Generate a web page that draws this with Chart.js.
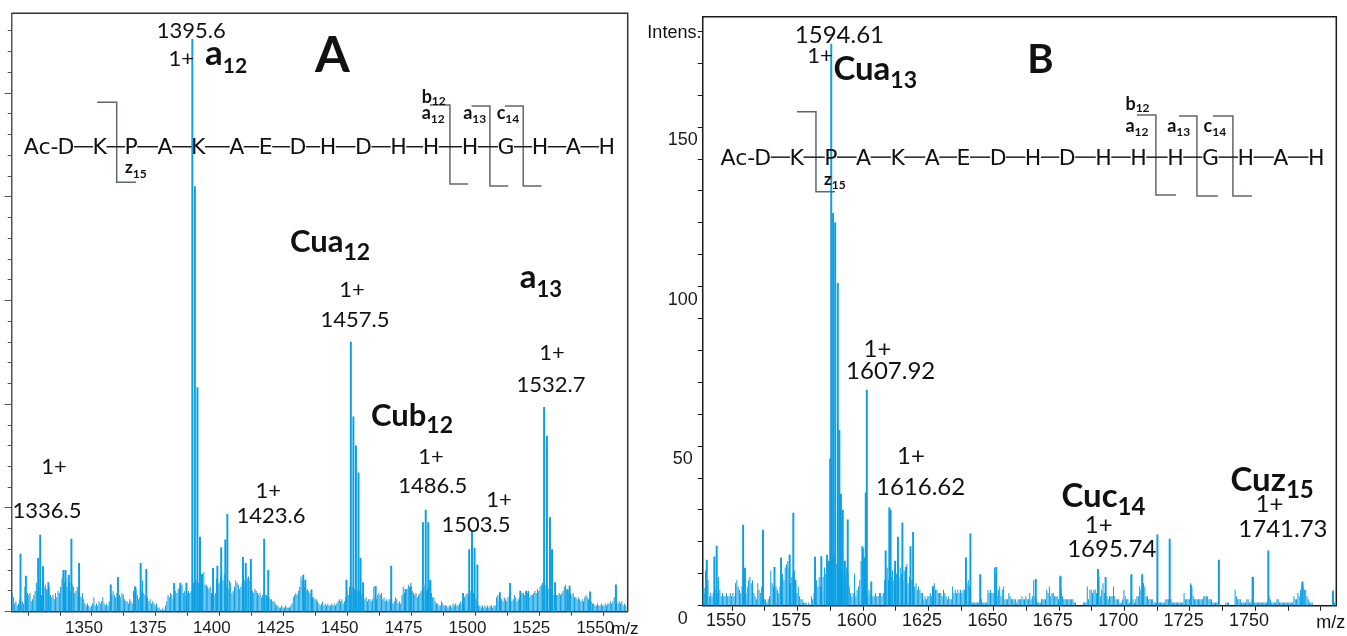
<!DOCTYPE html>
<html>
<head>
<meta charset="utf-8">
<script src="https://cdn.jsdelivr.net/npm/chart.js@4.4.1/dist/chart.umd.min.js"></script>
<style>
html,body{margin:0;padding:0;background:#fff;}
#wrap{position:relative;width:1347px;height:636px;overflow:hidden;background:#fff;}
canvas{position:absolute;top:0;}
#cA{left:0;}
#cB{left:645px;}
</style>
</head>
<body>
<div id="wrap">
<canvas id="cA" width="645" height="636"></canvas>
<canvas id="cB" width="702" height="636"></canvas>
</div>
<script>
// ================= DATA : panel A =================
const xTicksA = [1337.5,1350,1362.5,1375,1387.5,1400,1412.5,1425,1437.5,1450,1462.5,1475,1487.5,1500,1512.5,1525,1537.5,1550,1562.5];
const xLabelsA = [1350,1375,1400,1425,1450,1475,1500,1525,1550];
// baseline "grass", sampled every 0.5 m/z from 1325
const grassStartA = 1325, grassStepA = 0.5;
const grassA = [
 9,7,4,5,3,4,6,4,5,4,   12,6,9,8,9,5,6,8,10,14,
 10,12,9,8,14,12,13,11,10,12,   8,7,8,6,9,7,10,9,12,16,
 18,14,15,12,16,14,10,13,12,9,   10,12,9,8,7,9,6,4,3,4,
 3,2,3,4,7,3,4,3,5,4,   5,7,4,3,4,3,5,12,8,10,
 8,7,9,6,8,7,9,8,6,5,   5,4,6,5,4,10,12,11,8,6,
 7,10,15,9,8,6,7,5,6,4,   5,4,3,4,2,2,1,1,2,1,
 3,5,8,7,9,8,6,13,10,9,   11,12,10,13,9,10,8,9,10,9,
 10,12,14,12,15,13,14,12,11,10,   19,13,13,12,11,12,9,10,8,9,
 16,13,14,17,19,15,18,14,12,11,   15,14,9,10,12,15,14,13,11,12,
 14,17,15,14,16,17,15,11,10,9,   11,10,9,8,9,7,8,9,8,8,
 7,7,6,6,5,5,4,3,3,2,   2,3,2,2,3,2,2,2,3,4,
 7,8,9,8,10,12,17,15,13,12,   10,11,10,9,8,7,7,6,6,5,
 4,3,4,5,3,4,3,4,3,3,   4,3,4,3,4,5,6,5,6,4,
 5,7,10,8,12,10,12,9,11,9,   10,9,10,8,9,7,6,7,5,6,
 6,5,6,12,7,6,8,9,8,9,   6,7,5,6,5,6,6,5,4,5,
 7,6,4,5,4,8,12,9,10,11,   13,12,14,10,9,8,9,7,8,9,
 10,12,11,13,10,11,9,15,9,7,   7,5,4,4,3,3,5,4,3,3,
 3,2,3,3,2,4,3,4,3,3,   4,5,4,6,7,8,9,8,9,10,
 8,9,7,6,4,3,3,2,3,2,   3,2,3,2,3,3,2,3,3,7,
 8,5,7,6,5,7,6,5,7,9,   6,5,6,8,7,5,6,7,8,9,
 9,8,10,9,10,7,8,8,9,10,   9,11,10,12,13,14,12,13,11,12,
 11,10,9,9,8,9,8,8,9,8,   9,10,12,13,11,9,10,9,8,9,
 7,7,6,7,6,5,6,5,7,8,   7,6,5,5,4,4,3,3,4,3,
 3,4,3,3,4,3,4,4,5,4,   5,7,6,5,4,5,4,5,3,4,
 3
];
// resolved peaks (m/z, intensity)
const peakMzA = [1328.3,1330.4,1335.2,1336.0,1337.1,1339.2,1345.1,1345.9,1347.2,1348.2,1351.2,1363.6,1366.4,1373.2,1375.3,1377.5,
 1388.4,1390.8,1393.2,1395.5,1396.5,1397.5,1398.5,1399.3,1403.6,1405.3,1406.8,1408.4,1409.2,1415.3,1416.4,1418.4,1423.6,1425.2,
 1438.9,1439.7,1442.1,1455.8,1457.5,1458.5,1459.5,1460.5,1461.3,1462.3,1467.2,1473.3,1478.9,1481.0,1485.7,1486.8,1487.8,1488.6,
 1501.4,1503.8,1504.9,1505.9,1507.0,1515.8,1519.8,1523.8,1526.2,1533.1,1534.2,1535.4,1536.2,1537.4,1542.3,1543.1,1551.1,1561.2];
const peakIntA = [27.8,17.2,25.7,37,21.7,14,20,20,17.7,35,23.3,12.9,16.6,12,23.3,20.4,
 13.7,13.8,13.8,276,205,108,36,18,20.9,22,30.9,34.6,47,26.2,23.3,25.3,35,20,
 17.7,15.3,10.5,15.3,130,94,80,67,25.7,14,12.2,22,10.8,12,43,49,43,15.3,
 8.9,30,39,30.6,22.5,9.2,13.7,10,10,98.5,84.7,45.5,30,14,10.5,12.4,9.6,12.9];

// ================= DATA : panel B =================
const xTicksB = [1550,1562.5,1575,1587.5,1600,1612.5,1625,1637.5,1650,1662.5,1675,1687.5,1700,1712.5,1725,1737.5,1750,1762.5,1775];
const xLabelsB = [1550,1575,1600,1625,1650,1675,1700,1725,1750];
const yLabelsB = [0,50,100,150];
const grassStartB = 1545, grassStepB = 0.5;
const grassB = [
 5,4,11,6,8,3,4,3,4,6,   5,4,9,5,3,4,3,3,4,3,
 3,4,3,4,3,7,8,6,5,4,   6,10,5,4,6,8,9,7,8,4,
 3,2,7,5,4,6,3,2,2,1,   2,3,11,7,6,5,6,5,4,6,
 5,10,8,12,13,14,12,7,9,10,   11,7,4,6,3,2,2,1,1,1,
 0,1,0,3,2,4,5,8,6,9,   6,4,9,12,10,13,14,12,15,16,
 14,16,13,15,12,14,11,12,10,9,   12,10,6,4,3,4,10,3,5,6,
 8,14,12,18,10,4,3,5,4,3,   3,3,4,3,3,4,4,3,4,8,
 10,12,8,14,9,11,8,12,10,14,   9,12,10,8,11,9,13,7,9,8,
 8,7,6,7,5,6,5,4,4,2,   3,2,3,3,4,3,6,7,5,5,
 4,4,4,3,5,4,3,2,3,2,   2,6,4,5,4,5,4,5,4,5,
 5,6,7,8,6,1,1,1,1,1,   1,1,10,2,1,1,1,1,5,4,
 5,4,4,12,10,3,5,6,3,5,   6,2,2,2,4,3,2,2,2,2,
 1,2,2,2,3,2,2,3,2,2,   4,2,3,8,3,2,1,1,1,2,
 2,2,2,5,4,6,3,4,4,3,   3,3,2,9,5,3,2,2,2,2,
 2,2,2,2,1,1,0,0,0,0,   0,1,1,1,6,2,5,5,4,5,
 5,4,11,9,3,5,7,4,3,3,   2,3,3,3,6,3,2,2,2,1,
 1,2,5,3,2,2,1,1,10,2,   1,2,3,3,6,5,10,7,6,3,
 3,2,2,2,2,1,1,1,1,1,   1,1,1,1,2,2,2,2,2,1,
 1,1,1,1,1,1,1,1,4,2,   2,2,2,7,6,3,2,2,2,2,
 2,2,2,3,3,3,3,2,2,2,   1,1,1,1,1,0,0,0,0,0,
 1,1,1,0,0,0,0,5,3,2,   2,2,1,1,1,1,2,2,1,1,
 2,9,1,1,1,1,1,1,1,1,   1,1,1,3,2,1,1,1,1,2,
 2,1,1,1,1,1,1,1,1,1,   1,1,3,2,2,4,3,5,7,6,
 5,5,3,2,1,1,1,0,0,0,   0,0,0,0,0,0,0,0,0,0,
 0,0,5,1,0
];
const peakMzB = [1545.3,1546.5,1549.4,1550.3,1560.4,1561.1,1568.0,1572.4,1574.9,1578.2,1579.6,1580.4,1587.9,1590.3,1592.5,1593.4,
 1593.7,1594.1,1594.8,1595.6,1596.6,1597.2,1597.8,1598.5,1599.3,1600.4,1606.0,1606.7,1607.3,1607.7,1609.4,1614.9,1616.3,1616.8,
 1618.5,1619.6,1621.3,1622.7,1624.4,1625.4,1633.0,1645.6,1647.3,1651.1,1657.2,1672.3,1681.8,1696.1,1699.0,1708.8,1713.0,1718.8,
 1723.5,1731.6,1742.3,1755.2,1761.2,1774.3,1785.9];
const peakIntB = [5.5,14.3,15.3,18.7,25.3,11.8,23.7,12,15,15.9,29,8,15.2,15.4,15.9,14,
 46,176,123,120,101,55,35,30,14,26.9,18.5,15,35.4,67.6,7.5,17.2,30.7,30,
 14,21.5,26,12,18.5,23,6,15,22.5,9.6,12,8.3,9.3,11.4,8.9,9.6,9.6,22.2,
 20.9,6.5,14.3,8.9,17.2,7.5,4.4];

// peptide sequence (shared)
const residues = ['D','K','P','A','K','A','E','D','H','D','H','H','H','G','H','A','H'];

// ================= LAYOUT / STYLE =================
const BLUE = '#0b9fe3';
const INK = '#111111';
const NUM_A = '22px Lato', NUM_B = '24px Lato';
const SEQ_FONT = '22px "DejaVu Sans"';
const SMALL = 'bold 18px Lato', SMALL_SUB = 'bold 12px Lato';

const layoutA = {
  frameColor:'#333', frameWidth:1.5,
  seq:{ mz:[1346.09,1359.27,1371.59,1384.81,1397.83,1412.85,1424.23,1436.82,1448.55,1462.44,1476.12,1488.83,1504.09,1518.17,1531.46,1544.56,1557.66], int:220.5 },
  brackets:[
    {l:1358.33,v:1365.92,r:1373.47,top:245.6,bot:207.0},
    {l:1488.44,v:1496.27,r:1503.42,top:244.3,bot:206.2},
    {l:1504.75,v:1511.91,r:1519.07,top:243.8,bot:205.2},
    {l:1517.77,v:1524.93,r:1532.12,top:243.8,bot:205.2}
  ],
  texts:[
    {t:'1395.6', m:1395.09, i:276.5, f:NUM_A},
    {t:'1+', m:1391.18, i:262.9, f:NUM_A},
    {t:'a', sub:'12', m:1400.45, i:263.6, f:'bold 35px Lato', sf:'bold 21px Lato', dy:7.7, align:'left'},
    {t:'A', m:1450.31, i:260.4, f:'bold 50px Lato'},
    {t:'Cua', sub:'12', m:1433.69, i:173.6, f:'bold 31px Lato', sf:'bold 23px Lato', dy:8.3, align:'left'},
    {t:'1+', m:1457.94, i:151.9, f:NUM_A},
    {t:'1457.5', m:1459.11, i:137.5, f:NUM_A},
    {t:'a', sub:'13', m:1523.53, i:155.9, f:'bold 33px Lato', sf:'bold 22px Lato', dy:8.4, align:'left'},
    {t:'1+', m:1536.15, i:121.4, f:NUM_A},
    {t:'1532.7', m:1535.76, i:106.1, f:NUM_A},
    {t:'Cub', sub:'12', m:1465.37, i:89.5, f:'bold 31px Lato', sf:'bold 23px Lato', dy:7.3, align:'left'},
    {t:'1+', m:1488.83, i:71.2, f:NUM_A},
    {t:'1486.5', m:1489.54, i:57.1, f:NUM_A},
    {t:'1+', m:1515.43, i:50.3, f:NUM_A},
    {t:'1503.5', m:1506.43, i:38.6, f:NUM_A},
    {t:'1+', m:1425.24, i:54.7, f:NUM_A},
    {t:'1423.6', m:1426.26, i:42.9, f:NUM_A},
    {t:'1+', m:1341.4, i:66.4, f:NUM_A},
    {t:'1336.5', m:1338.66, i:45.0, f:NUM_A},
    {t:'z', sub:'15', m:1369.16, i:211.4, f:'bold 17px Lato', sf:SMALL_SUB, dy:4.5, align:'left'},
    {t:'b', sub:'12', m:1485.2, i:245.4, f:SMALL, sf:SMALL_SUB, dy:2.5, align:'left'},
    {t:'a', sub:'12', m:1485.2, i:237.4, f:SMALL, sf:SMALL_SUB, dy:4, align:'left'},
    {t:'a', sub:'13', m:1501.47, i:237.4, f:SMALL, sf:SMALL_SUB, dy:4, align:'left'},
    {t:'c', sub:'14', m:1514.53, i:237.4, f:SMALL, sf:SMALL_SUB, dy:4, align:'left'},
    {t:'m/z', m:1564.7, below:22.3, f:'17px "Liberation Sans"'}
  ]
};

const layoutB = {
  frameColor:'#1a1a1a', frameWidth:1.5,
  seq:{ mz:[1567.89,1580.92,1593.96,1606.46,1619.50,1632.72,1644.69,1657.91,1671.29,1684.33,1698.20,1711.58,1725.69,1739.07,1752.60,1765.98,1779.55], int:138.2 },
  brackets:[
    {l:1581.0,v:1588.26,r:1595.53,top:154.8,bot:129.7},
    {l:1710.97,v:1718.23,r:1725.88,top:153.8,bot:128.7},
    {l:1727.03,v:1733.91,r:1741.94,top:153.5,bot:128.4},
    {l:1740.03,v:1747.67,r:1754.94,top:153.5,bot:128.4}
  ],
  texts:[
    {t:'1594.61', m:1597.21, i:176.3, f:NUM_B},
    {t:'1+', m:1589.79, i:170.0, f:'22px Lato'},
    {t:'Cua', sub:'13', m:1594.92, i:164.8, f:'bold 33px Lato', sf:'bold 23px Lato', dy:8.3, align:'left'},
    {t:'B', m:1674.08, i:167.1, f:'bold 40px Lato'},
    {t:'1+', m:1611.74, i:78.1, f:NUM_B},
    {t:'1607.92', m:1616.82, i:71.0, f:NUM_B},
    {t:'1+', m:1624.58, i:44.3, f:NUM_B},
    {t:'1616.62', m:1628.25, i:34.7, f:NUM_B},
    {t:'Cuc', sub:'14', m:1682.11, i:31.0, f:'bold 33px Lato', sf:'bold 24px Lato', dy:8.3, align:'left'},
    {t:'1+', m:1696.33, i:22.7, f:NUM_B},
    {t:'1695.74', m:1701.34, i:15.2, f:NUM_B},
    {t:'Cuz', sub:'15', m:1746.75, i:36.1, f:'bold 33px Lato', sf:'bold 24px Lato', dy:7.6, align:'left'},
    {t:'1+', m:1761.66, i:29.5, f:NUM_B},
    {t:'1741.73', m:1766.78, i:21.6, f:NUM_B},
    {t:'z', sub:'15', m:1591.32, i:131.9, f:'bold 17px Lato', sf:SMALL_SUB, dy:4.5, align:'left'},
    {t:'b', sub:'12', m:1706.58, i:155.4, f:SMALL, sf:SMALL_SUB, dy:2.5, align:'left'},
    {t:'a', sub:'12', m:1706.58, i:148.6, f:SMALL, sf:SMALL_SUB, dy:4, align:'left'},
    {t:'a', sub:'13', m:1722.55, i:148.6, f:SMALL, sf:SMALL_SUB, dy:4, align:'left'},
    {t:'c', sub:'14', m:1736.43, i:148.6, f:SMALL, sf:SMALL_SUB, dy:4, align:'left'},
    {t:'m/z', m:1785.05, below:22.3, f:'18px "Liberation Sans"'},
    {t:'Intens.', leftDx:-1.3, i:178, f:'18px "Liberation Sans"', align:'right'}
  ]
};

// ================= PLUGIN =================
const annotPlugin = {
  id:'annot',
  afterDatasetsDraw(chart, args, o) {
    const {ctx, chartArea:ca} = chart;
    const sx = chart.scales.x, sy = chart.scales.y;
    const X = v => sx.getPixelForValue(v), Y = v => sy.getPixelForValue(v);
    ctx.save();
    // top and right frame
    ctx.strokeStyle = o.frameColor; ctx.lineWidth = o.frameWidth;
    ctx.beginPath(); ctx.moveTo(ca.left, ca.top); ctx.lineTo(ca.right, ca.top); ctx.lineTo(ca.right, ca.bottom); ctx.stroke();
    // fragmentation brackets
    ctx.strokeStyle = '#5c6870'; ctx.lineWidth = 1.5;
    for (const b of o.brackets) {
      ctx.beginPath();
      ctx.moveTo(X(b.l), Y(b.top)); ctx.lineTo(X(b.v), Y(b.top));
      ctx.lineTo(X(b.v), Y(b.bot)); ctx.lineTo(X(b.r), Y(b.bot));
      ctx.stroke();
    }
    // sequence
    ctx.font = SEQ_FONT; ctx.fillStyle = INK; ctx.textBaseline = 'alphabetic';
    const by = Y(o.seq.int);
    const xs = o.seq.mz.map(X);
    const ws = residues.map(r => ctx.measureText(r).width);
    ctx.textAlign = 'center';
    residues.forEach((r, k) => ctx.fillText(r, xs[k], by));
    ctx.textAlign = 'right';
    ctx.fillText('Ac-', xs[0] - ws[0]/2 + 1, by);
    ctx.strokeStyle = INK; ctx.lineWidth = 1.4;
    for (let k = 0; k < residues.length - 1; k++) {
      const x1 = xs[k] + ws[k]/2 - 0.5, x2 = xs[k+1] - ws[k+1]/2 + 0.5;
      ctx.beginPath(); ctx.moveTo(x1, by - 7.6); ctx.lineTo(x2, by - 7.6); ctx.stroke();
    }
    // texts
    for (const t of o.texts) {
      const px = t.leftDx !== undefined ? ca.left + t.leftDx : X(t.m);
      const py = t.below !== undefined ? ca.bottom + t.below : Y(t.i);
      ctx.font = t.f; ctx.fillStyle = INK; ctx.textBaseline = 'alphabetic';
      ctx.textAlign = t.align || 'center';
      ctx.fillText(t.t, px, py);
      if (t.sub) {
        const w = ctx.measureText(t.t).width;
        ctx.font = t.sf; ctx.textAlign = 'left';
        ctx.fillText(t.sub, px + w, py + t.dy);
      }
    }
    ctx.restore();
  }
};

function pts(xs, ys){ return xs.map((x, k) => ({x, y: ys[k]})); }
const grassMzA = grassA.map((_, k) => grassStartA + k * grassStepA);
const grassMzB = grassB.map((_, k) => grassStartB + k * grassStepB);

// ================= CHART A =================
new Chart(document.getElementById('cA'), {
  type:'bar',
  data:{ datasets:[
    { data: pts(grassMzA, grassA), backgroundColor: BLUE, barThickness: 1.0, inflateAmount: 0, grouped:false, order:2 },
    { data: pts(peakMzA, peakIntA), backgroundColor: BLUE, barThickness: 1.3, grouped:false, order:1 }
  ]},
  options:{
    responsive:false, animation:false, events:[], devicePixelRatio:1,
    layout:{ padding:{ left:11.7, top:13.3, right:17.3, bottom:0 } },
    plugins:{ legend:{display:false}, tooltip:{enabled:false}, annot: layoutA },
    scales:{
      x:{ type:'linear', min:1324.85, max:1565.8, offset:false,
          afterBuildTicks: ax => { ax.ticks = xTicksA.map(v => ({value:v})); },
          ticks:{ autoSkip:false, maxRotation:0, labelOffset:8, padding:2, color:'#1a1a1a',
                  font:{ family:'"Liberation Sans", Arial, sans-serif', size:17 },
                  callback: v => xLabelsA.includes(v) ? String(v) : '' },
          grid:{ drawOnChartArea:false, drawTicks:true, tickLength:4, tickColor:'#333', tickWidth:1 },
          border:{ display:true, color:'#333', width:1.5 },
          afterFit: s => { s.height = 24.3; } },
      y:{ type:'linear', position:'left', min:0, max:288.5,
          ticks:{ display:false, stepSize:10, includeBounds:false },
          grid:{ drawOnChartArea:false, drawTicks:true, tickLength:4, tickColor:'#555', tickWidth:1 },
          border:{ display:true, color:'#555', width:1.5 },
          afterFit: s => { s.width = 0; } },
      y2:{ type:'linear', position:'left', min:0, max:288.5,
          ticks:{ display:false, stepSize:50, includeBounds:false },
          grid:{ drawOnChartArea:false, drawTicks:true, tickLength:7, tickColor:'#555', tickWidth:1 },
          border:{ display:false },
          afterFit: s => { s.width = 0; } }
    }
  },
  plugins:[annotPlugin]
});

// ================= CHART B =================
new Chart(document.getElementById('cB'), {
  type:'bar',
  data:{ datasets:[
    { data: pts(grassMzB, grassB), backgroundColor: BLUE, barThickness: 1.0, inflateAmount: 0, grouped:false, order:2 },
    { data: pts(peakMzB, peakIntB), backgroundColor: BLUE, barThickness: 1.3, grouped:false, order:1 }
  ]},
  options:{
    responsive:false, animation:false, events:[], devicePixelRatio:1,
    layout:{ padding:{ left:0, top:16.7, right:10.7, bottom:0 } },
    plugins:{ legend:{display:false}, tooltip:{enabled:false}, annot: layoutB },
    scales:{
      x:{ type:'linear', min:1544.95, max:1787.2, offset:false,
          afterBuildTicks: ax => { ax.ticks = xTicksB.map(v => ({value:v})); },
          ticks:{ autoSkip:false, maxRotation:0, labelOffset:10, padding:0, color:'#1a1a1a',
                  font:{ family:'"Liberation Sans", Arial, sans-serif', size:18 },
                  callback: v => xLabelsB.includes(v) ? String(v) : '' },
          grid:{ drawOnChartArea:false, drawTicks:true, tickLength:5, tickColor:'#1a1a1a', tickWidth:1 },
          border:{ display:true, color:'#1a1a1a', width:1.5 },
          afterFit: s => { s.height = 30.3; } },
      y:{ type:'linear', position:'left', min:0, max:184.6,
          ticks:{ stepSize:10, includeBounds:false, labelOffset:13, padding:0, crossAlign:'center', color:'#1a1a1a',
                  font:{ family:'"Liberation Sans", Arial, sans-serif', size:18 },
                  callback: v => yLabelsB.includes(v) ? String(v) : '' },
          grid:{ drawOnChartArea:false, drawTicks:true, tickLength:5, tickColor:'#1a1a1a', tickWidth:1 },
          border:{ display:true, color:'#1a1a1a', width:1.5 },
          afterFit: s => { s.width = 57.7; } }
    }
  },
  plugins:[annotPlugin]
});
</script>
</body>
</html>
